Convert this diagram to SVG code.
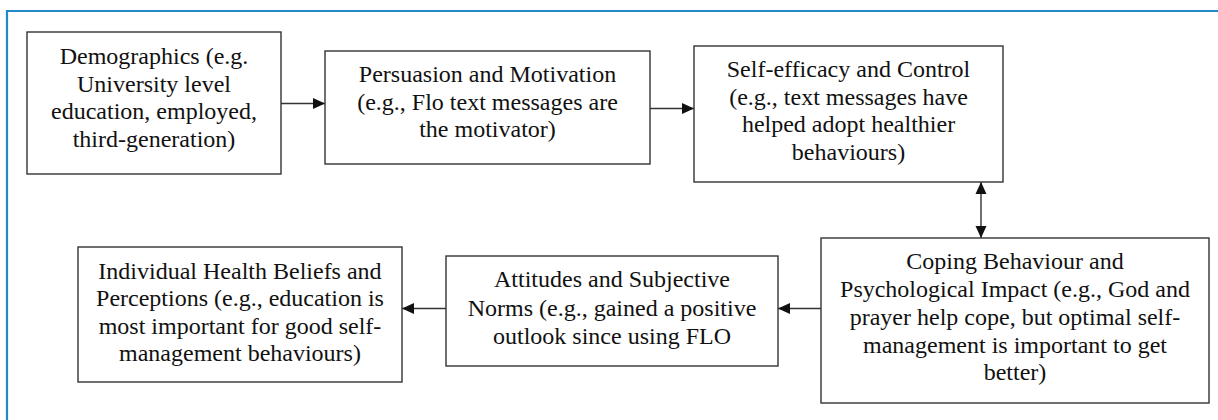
<svg xmlns="http://www.w3.org/2000/svg" width="1218" height="420" viewBox="0 0 1218 420">
<style>
.frame{fill:none;stroke:#2389c6;stroke-width:2.2}
.box{fill:#fff;stroke:#333;stroke-width:1.4}
.lbl{font-size:24px;fill:#111;text-anchor:middle}
.conn{fill:none;stroke:#333;stroke-width:1.4}
</style>
<defs>
<marker id="ah" markerUnits="userSpaceOnUse" markerWidth="13" markerHeight="12" refX="12" refY="5.5" orient="auto-start-reverse" viewBox="0 0 13 11">
<path d="M0,0 L12,5.5 L0,11 z" fill="#111"/>
</marker>
</defs>
<rect width="1218" height="420" fill="#fff"/>
<path class="frame" d="M7,421 V11 H1219"/>
<g id="connectors">
<line class="conn" x1="281" y1="103.5" x2="325" y2="103.5" marker-end="url(#ah)"/>
<line class="conn" x1="650" y1="108.5" x2="694" y2="108.5" marker-end="url(#ah)"/>
<line class="conn" x1="981" y1="182" x2="981" y2="238" marker-start="url(#ah)" marker-end="url(#ah)"/>
<line class="conn" x1="821" y1="308.5" x2="778" y2="308.5" marker-end="url(#ah)"/>
<line class="conn" x1="446" y1="308.5" x2="402" y2="308.5" marker-end="url(#ah)"/>
</g>
<g font-family="'Liberation Serif', 'Times New Roman', 'DejaVu Serif', serif">
<g id="n1">
<rect class="box" x="27" y="32" width="254" height="142"/>
<text class="lbl" x="154" y="64">Demographics (e.g.</text>
<text class="lbl" x="154" y="91.5">University level</text>
<text class="lbl" x="154" y="119">education, employed,</text>
<text class="lbl" x="154" y="146.5">third-generation)</text>
</g>
<g id="n2">
<rect class="box" x="325" y="51" width="325" height="113"/>
<text class="lbl" x="487.5" y="82">Persuasion and Motivation</text>
<text class="lbl" x="487.5" y="109.5">(e.g., Flo text messages are</text>
<text class="lbl" x="487.5" y="137">the motivator)</text>
</g>
<g id="n3">
<rect class="box" x="694" y="46" width="309" height="136"/>
<text class="lbl" x="848.5" y="77">Self-efficacy and Control</text>
<text class="lbl" x="848.5" y="104.5">(e.g., text messages have</text>
<text class="lbl" x="848.5" y="132">helped adopt healthier</text>
<text class="lbl" x="848.5" y="159.5">behaviours)</text>
</g>
<g id="n4">
<rect class="box" x="821" y="238" width="388" height="165"/>
<text class="lbl" x="1015" y="268.5">Coping Behaviour and</text>
<text class="lbl" x="1015" y="296.5">Psychological Impact (e.g., God and</text>
<text class="lbl" x="1015" y="324.5">prayer help cope, but optimal self-</text>
<text class="lbl" x="1015" y="352.5">management is important to get</text>
<text class="lbl" x="1015" y="380">better)</text>
</g>
<g id="n5">
<rect class="box" x="446" y="256" width="332" height="110"/>
<text class="lbl" x="612" y="287">Attitudes and Subjective</text>
<text class="lbl" x="612" y="315.5">Norms (e.g., gained a positive</text>
<text class="lbl" x="612" y="344">outlook since using FLO</text>
</g>
<g id="n6">
<rect class="box" x="78" y="247" width="324" height="135"/>
<text class="lbl" x="240" y="278.5">Individual Health Beliefs and</text>
<text class="lbl" x="240" y="306">Perceptions (e.g., education is</text>
<text class="lbl" x="240" y="333.5">most important for good self-</text>
<text class="lbl" x="240" y="361">management behaviours)</text>
</g>
</g>
</svg>
